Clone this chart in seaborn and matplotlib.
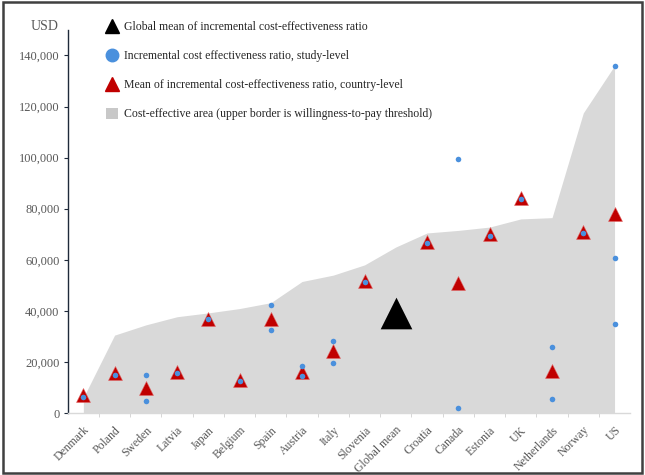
import matplotlib
matplotlib.use("Agg")
import matplotlib.pyplot as plt
from matplotlib.lines import Line2D
from matplotlib.patches import Patch, Rectangle
from matplotlib.ticker import FuncFormatter, FixedLocator
import numpy as np
import pandas as pd
import seaborn as sns

#%% data (USD)
countries = ['Denmark', 'Poland', 'Sweden', 'Latvia', 'Japan', 'Belgium', 'Spain',
             'Austria', 'Italy', 'Slovenia', 'Global mean', 'Croatia', 'Canada',
             'Estonia', 'UK', 'Netherlands', 'Norway', 'US']

# willingness-to-pay threshold (upper border of grey area)
wtp = [6000, 30500, 34500, 37700, 39200, 40900, 43200, 51500, 54000, 58000,
       65000, 70500, 71500, 72800, 76000, 76500, 117500, 136000]

# country-level mean ICER
mean_country = ['Denmark', 'Poland', 'Sweden', 'Latvia', 'Japan', 'Belgium', 'Spain',
                'Austria', 'Italy', 'Slovenia', 'Croatia', 'Canada', 'Estonia', 'UK',
                'Netherlands', 'Norway', 'US']
mean_icer = [7000, 15500, 9900, 16000, 37000, 12800, 37000, 16000, 24300, 51500,
             67000, 51000, 70000, 84200, 16300, 71000, 78000]

# study-level ICER
study_country = ['Denmark', 'Poland', 'Sweden', 'Sweden', 'Latvia', 'Japan', 'Belgium',
                 'Spain', 'Spain', 'Austria', 'Austria', 'Italy', 'Italy', 'Slovenia',
                 'Croatia', 'Canada', 'Canada', 'Estonia', 'UK', 'Netherlands',
                 'Netherlands', 'Norway', 'US', 'US', 'US']
study_icer = [6400, 15000, 15000, 4800, 15500, 36800, 12500, 42200, 32500, 18500,
              14600, 28200, 19500, 51200, 66500, 99600, 1800, 69200, 83800, 25800,
              5400, 70500, 135800, 60600, 34900]

global_mean = 39000

#%% frames
pos = {c: i for i, c in enumerate(countries)}
df_mean = pd.DataFrame({'x': [pos[c] for c in mean_country], 'icer': mean_icer})
df_study = pd.DataFrame({'x': [pos[c] for c in study_country], 'icer': study_icer})
df_global = pd.DataFrame({'x': [pos['Global mean']], 'icer': [global_mean]})

#%% plot
sns.set_style('white')
plt.rcParams['font.family'] = ['Liberation Serif', 'DejaVu Serif']
txt_col = '#595959'
red = '#c00000'
blue = '#4a90dd'
grey = '#d9d9d9'

fig = plt.figure(figsize=(6.45, 4.75), dpi=100)
ax = fig.add_axes([0.105, 0.1305, 0.872, 0.8065])

ax.fill_between(np.arange(len(countries)), 0, wtp, color=grey, lw=0, zorder=1)

sns.scatterplot(data=df_mean, x='x', y='icer', marker='^', s=100, color=red,
                edgecolor='#e06060', linewidth=0.4, ax=ax, zorder=3, legend=False)
sns.scatterplot(data=df_study, x='x', y='icer', marker='o', s=16, color=blue,
                linewidth=0, ax=ax, zorder=4, legend=False)
sns.scatterplot(data=df_global, x='x', y='icer', marker='^', s=520, color='black',
                linewidth=0, ax=ax, zorder=3, legend=False)

ax.set_xlim(-0.5, len(countries) - 0.5)
ax.set_ylim(0, 150000)
ax.set_xlabel('')
ax.set_ylabel('')

# y axis
ax.set_yticks(np.arange(0, 140001, 20000))
ax.yaxis.set_major_formatter(FuncFormatter(lambda v, p: f'{int(v):,}'))
ax.tick_params(axis='y', direction='out', length=3, width=0.8, color='#1f2a3a',
               labelsize=9, labelcolor=txt_col, pad=3, left=True)

# x axis: labels at categories, tick marks at boundaries
ax.set_xticks(np.arange(len(countries)))
ax.set_xticklabels(countries, rotation=45, ha='right', rotation_mode='anchor',
                   fontsize=8.5, color=txt_col)
ax.tick_params(axis='x', which='major', length=0, pad=8)
ax.xaxis.set_minor_locator(FixedLocator(np.arange(0.5, len(countries) - 0.5, 1)))
ax.tick_params(axis='x', which='minor', direction='out', length=3, color='#d0d0d0',
               bottom=True)

for s in ['top', 'right']:
    ax.spines[s].set_visible(False)
ax.spines['left'].set_color('#1f2a3a')
ax.spines['left'].set_linewidth(1.0)
ax.spines['bottom'].set_color('#d9d9d9')
ax.spines['bottom'].set_linewidth(1.0)

fig.text(45 / 645, 1 - 26 / 475, 'USD', ha='center', va='center', fontsize=10,
         color=txt_col)

# legend
handles = [
    Line2D([0], [0], marker='^', color='black', lw=0, markersize=10),
    Line2D([0], [0], marker='o', color=blue, lw=0, markersize=9),
    Line2D([0], [0], marker='^', color=red, lw=0, markersize=10),
    Patch(facecolor='#c8c8c8', edgecolor='none'),
]
labels = ['Global mean of incremental cost-effectiveness ratio',
          'Incremental cost effectiveness ratio, study-level',
          'Mean of incremental cost-effectiveness ratio, country-level',
          'Cost-effective area (upper border is willingness-to-pay threshold)']
leg = fig.legend(handles, labels, loc='upper left', bbox_to_anchor=(100 / 645, 1 - 15 / 475),
                 frameon=False, fontsize=8.5, labelspacing=1.42, handlelength=1.0,
                 handletextpad=0.5, borderpad=0, handleheight=1.0)
for t in leg.get_texts():
    t.set_color('#262626')

# outer frame
fig.patches.append(Rectangle((0.004, 0.005), 0.992, 0.99, transform=fig.transFigure,
                             fill=False, edgecolor='#404040', linewidth=1.8))

fig.savefig('out.png', dpi=100)
